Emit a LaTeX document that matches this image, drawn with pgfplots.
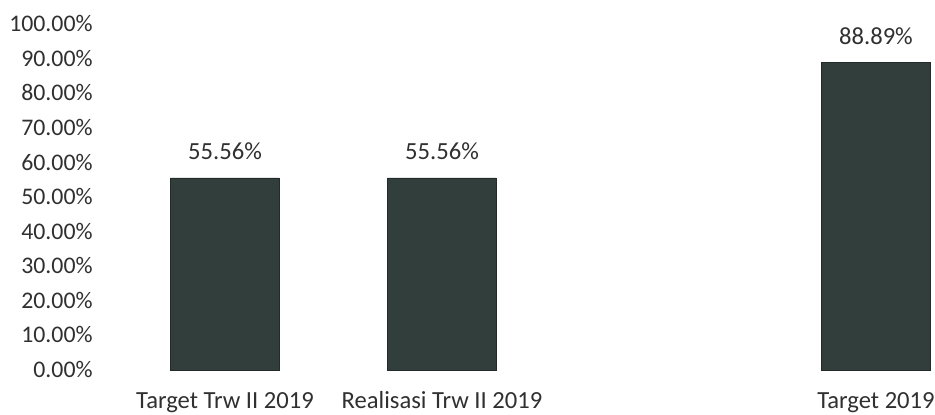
\documentclass[border=0pt]{standalone}
\usepackage{fontspec}
\setmainfont{Carlito}
\usepackage{pgfplots}
\pgfplotsset{compat=1.18}
\definecolor{barfill}{RGB}{50,62,60}
\definecolor{txt}{RGB}{48,48,48}
\begin{document}
\begin{tikzpicture}
\useasboundingbox (-58.25pt,-22pt) rectangle (409.25pt,185pt);
\begin{axis}[
    at={(0,0)}, anchor=south west,
    scale only axis,
    width=409.25pt, height=172.8pt,
    xmin=-0.5, xmax=3.272,
    ymin=0, ymax=100,
    axis line style={draw=none},
    major tick length=0pt,
    xtick={0,1,3},
    xticklabels={Target Trw II 2019, Realisasi Trw II 2019, Target 2019},
    ytick={0,10,...,100},
    yticklabel={\pgfmathprintnumber[fixed,fixed zerofill,precision=2]{\tick}\%},
    /pgf/number format/assume math mode=true,
    tick label style={font=\fontsize{11.9}{14}\selectfont, text=txt, inner sep=0pt},
    yticklabel style={anchor=base east, xshift=-11.75pt, yshift=-3.7pt},
    xticklabel style={anchor=base, yshift=-19pt, font=\fontsize{12.3}{14}\selectfont},
    ybar, bar width=0.5,
    nodes near coords={\pgfmathprintnumber[fixed,fixed zerofill,precision=2]{\pgfplotspointmeta}\%},
    nodes near coords style={font=\fontsize{12.3}{14}\selectfont, text=txt, anchor=base, inner sep=0pt, yshift=9pt},
]
\addplot[fill=barfill, draw=barfill!70!black] coordinates {(0,55.56) (1,55.56) (3,88.89)};
\end{axis}
\end{tikzpicture}
\end{document}
